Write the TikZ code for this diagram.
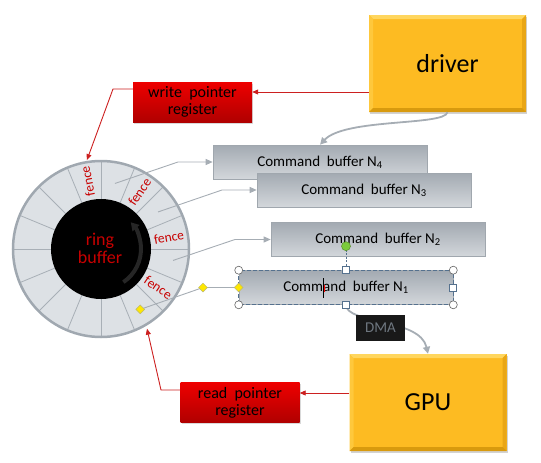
\documentclass[tikz,border=0pt]{standalone}
\usepackage{fontspec}
\setmainfont{Carlito}
\usetikzlibrary{arrows.meta,shadows,calc,shapes.geometric}
\definecolor{orangefill}{HTML}{FDBB22}
\definecolor{orangetop}{HTML}{FFD65E}
\definecolor{orangeleft}{HTML}{FEC83C}
\definecolor{orangeright}{HTML}{E9A616}
\definecolor{orangebot}{HTML}{D89A0E}
\definecolor{redtop}{HTML}{EE0000}
\definecolor{redbot}{HTML}{B00000}
\definecolor{redline}{HTML}{CC2020}
\definecolor{bufftop}{HTML}{A3AAB2}
\definecolor{buffbot}{HTML}{D3D7DB}
\definecolor{buffedge}{HTML}{A0A7AE}
\definecolor{ringfill}{HTML}{DDE1E5}
\definecolor{ringedge}{HTML}{A0A8B0}
\definecolor{segline}{HTML}{A8AFB6}
\definecolor{leader}{HTML}{A6ADB4}
\definecolor{fencered}{HTML}{C80000}
\definecolor{handle}{HTML}{55718E}
\definecolor{dmatext}{HTML}{6E7780}
\definecolor{rotgreen}{HTML}{7CCB3C}
\begin{document}
\begin{tikzpicture}[x=1pt,y=-1pt,
  orangebox/.style={draw=none, fill=orangefill, minimum width=157pt, minimum height=97pt,
    drop shadow={shadow xshift=1pt, shadow yshift=-2pt, opacity=0.35},
    font=\fontsize{26}{31}\selectfont,
    path picture={
      \coordinate (pnw) at (path picture bounding box.north west);
      \coordinate (pne) at (path picture bounding box.north east);
      \coordinate (psw) at (path picture bounding box.south west);
      \coordinate (pse) at (path picture bounding box.south east);
      \fill[orangetop] (pnw) -- (pne) -- ($(pne)+(-4,4)$) -- ($(pnw)+(4,4)$) -- cycle;
      \fill[orangeleft] (pnw) -- (psw) -- ($(psw)+(4,-4)$) -- ($(pnw)+(4,4)$) -- cycle;
      \fill[orangeright] (pne) -- (pse) -- ($(pse)+(-4,-4)$) -- ($(pne)+(-4,4)$) -- cycle;
      \fill[orangebot] (psw) -- (pse) -- ($(pse)+(-4,-4)$) -- ($(psw)+(4,-4)$) -- cycle;
    }},
  redbox/.style={draw=none, top color=redtop, bottom color=redbot, minimum width=119pt,
    minimum height=40pt, align=center, inner sep=1pt,
    font=\fontsize{16}{17}\selectfont,
    drop shadow={shadow xshift=1pt, shadow yshift=-1.5pt, opacity=0.3}},
  cmdbuf/.style={draw=buffedge, line width=0.6pt, top color=bufftop, bottom color=buffbot,
    minimum width=214pt, minimum height=34pt, font=\fontsize{15}{17}\selectfont},
  fencetxt/.style={text=fencered, font=\fontsize{13.5}{15}\selectfont, inner sep=0pt},
  redarr/.style={draw=redline, line width=0.9pt, -{Triangle[length=6pt,width=5pt]}},
  leadarr/.style={draw=leader, line width=0.9pt, -{Triangle[length=7pt,width=6pt]}},
  grayconn/.style={draw=leader, line width=1.8pt, -{Triangle[length=7pt,width=7pt]}},
  cornerh/.style={circle, draw=gray!80!black, fill=white, line width=0.6pt, minimum size=8pt, inner sep=0pt},
  sqh/.style={rectangle, draw=handle, fill=white, line width=0.7pt, minimum size=7pt, inner sep=0pt},
  diah/.style={diamond, draw=yellow!40!gray, fill=yellow!90!orange, line width=0.5pt, minimum size=9pt, inner sep=0pt}
]
\useasboundingbox (0,0) rectangle (541,463);

% ring buffer
\node[circle, fill=ringfill, minimum size=176pt, inner sep=0pt] (ring) at (101,249) {};
\foreach \k in {0,...,15} {
  \draw[segline, line width=0.8pt] ($(ring.center)+(\k*22.5:50)$) -- ($(ring.center)+(\k*22.5:88)$);
}
\draw[ringedge, line width=2.5pt] (ring.center) circle (88);
\node[circle, fill=black, minimum size=100pt, inner sep=0pt] (core) at (ring.center) {};
\node[align=center, text=fencered, inner sep=0pt, font=\fontsize{18}{18}\selectfont] (corelabel) at (100,248) {ring\\buffer};
\draw[draw=black!70!gray, line width=4pt, -{Triangle[length=8pt,width=9pt]}]
  ($(ring.center)+(56:40)$) arc[start angle=56, end angle=-42, radius=40];

\node[fencetxt, rotate=101] (f1) at ($(ring.center)+(-101:69)$) {fence};
\node[fencetxt, rotate=56] (f2) at ($(ring.center)+(-56:69)$) {fence};
\node[fencetxt, rotate=10] (f3) at ($(ring.center)+(-10:69)$) {fence};
\node[fencetxt, rotate=-34] (f4) at ($(ring.center)+(34:69)$) {fence};

% command buffers
\node[cmdbuf] (N4) at (320,162) {Command\ \ buffer N\textsubscript{4}};
\node[cmdbuf] (N3) at (364,190) {Command\ \ buffer N\textsubscript{3}};
\node[cmdbuf] (N2) at (378,239.5) {Command\ \ buffer N\textsubscript{2}};
\node[cmdbuf] (N1) at (346,287.5) {Command\ \ buffer N\textsubscript{1}};
\draw[handle, line width=0.8pt, dash pattern=on 4pt off 2pt] (N1.north west) rectangle (N1.south east);

% driver, GPU, registers
\node[orangebox] (driver) at (447.5,63.5) {driver};
\node[orangebox] (gpu) at (428,402.5) {GPU};
\node[redbox] (wpr) at (192.5,102) {write\ \ pointer\\register};
\node[redbox] (rpr) at (240,402.5) {read\ \ pointer\\register};

% red connectors
\coordinate (wa) at ($(wpr.east)+(0,-10)$);
\draw[redarr] (driver.west |- wa) -- (wa);
\coordinate (wl) at ($(wpr.west)+(0,-13)$);
\coordinate (wk) at (113,89);
\coordinate (wtip) at ($(ring.center)+(-99:90)$);
\draw[redarr] (wl) -- (wk) -- (wtip);
\coordinate (ra) at ($(rpr.east)+(0,-9.5)$);
\draw[redarr] (gpu.west |- ra) -- (ra);
\coordinate (rl) at ($(rpr.west)+(0,-12.5)$);
\coordinate (rk) at (161,390);
\coordinate (rtip) at ($(ring.center)+(60:92)$);
\draw[redarr] (rl) -- (rk) -- (rtip);

% leader lines
\coordinate (s4) at ($(ring.center)+(-78:67)$);
\coordinate (m4) at (178,162);
\draw[leadarr] (s4) -- (m4) -- (N4.west);
\coordinate (s3) at ($(ring.center)+(-33:68)$);
\coordinate (m3) at (222,190);
\draw[leadarr] (s3) -- (m3) -- (N3.west);
\coordinate (s2) at ($(ring.center)+(9:73)$);
\coordinate (m2) at (235,239.5);
\draw[leadarr] (s2) -- (m2) -- (N2.west);
\coordinate (s1) at ($(ring.center)+(57:72)$);
\coordinate (m1) at (203,287.5);
\draw[draw=leader, line width=0.9pt] (s1) -- (m1) -- (N1.west);

% gray curved connectors
\draw[grayconn] (driver.south) .. controls (445,126) and (345,118) .. (N4.north);
\draw[grayconn] (N1.south) .. controls (346,324) and (420,318) .. (gpu.north);
\node[fill=black!90, text=dmatext, minimum width=49pt, minimum height=26pt, inner sep=0pt,
  font=\fontsize{15}{17}\selectfont] (dma) at (380.5,328) {DMA};

% selection handles on N1
\coordinate (rot) at ($(N1.north)+(0,-24)$);
\draw[handle, line width=0.7pt, dash pattern=on 2pt off 1.5pt] (rot) -- (N1.north);
\node[circle, fill=rotgreen, draw=rotgreen!70!black, line width=0.5pt, minimum size=9pt, inner sep=0pt] (roth) at (rot) {};
\node[cornerh] (h1) at (N1.north west) {};
\node[cornerh] (h2) at (N1.north east) {};
\node[cornerh] (h3) at (N1.south west) {};
\node[cornerh] (h4) at (N1.south east) {};
\node[sqh] (h5) at (N1.north) {};
\node[sqh] (h6) at (N1.south) {};
\node[sqh] (h7) at (N1.east) {};
\node[diah] (d1) at (N1.west) {};
\node[diah] (d2) at (m1) {};
\node[diah] (d3) at (s1) {};
% text cursor
\draw[black, line width=0.8pt] (323,278) -- (323,298);
\draw[red, line width=0.6pt] (324,285) -- (324,292);
\end{tikzpicture}
\end{document}
